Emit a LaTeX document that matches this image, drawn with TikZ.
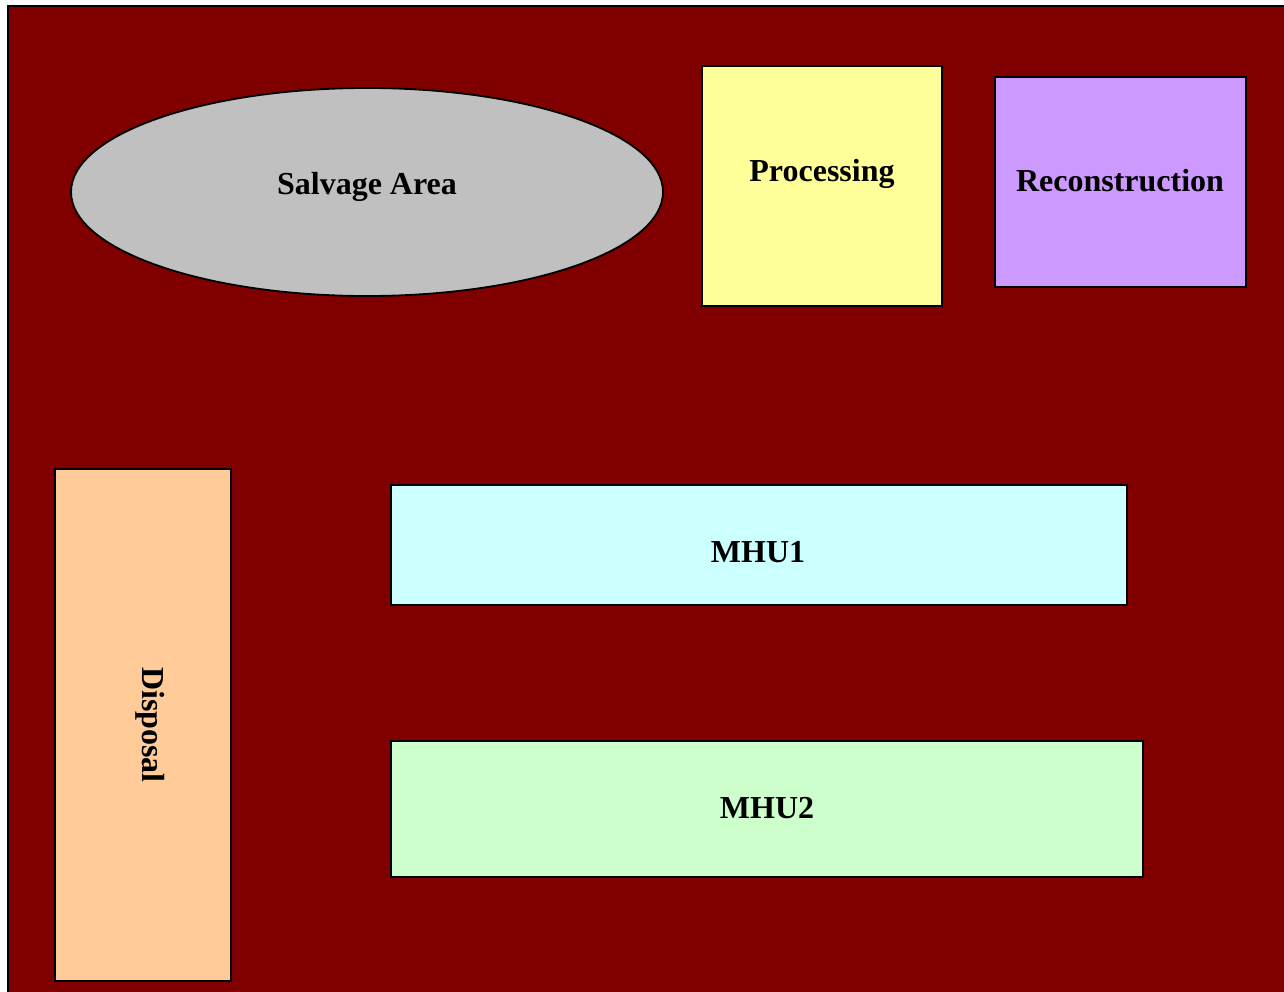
\documentclass[tikz,border=0pt]{standalone}
\usepackage{fontspec}
\setmainfont{Liberation Serif}
\usetikzlibrary{shapes.geometric}
\definecolor{bgred}{HTML}{800000}
\definecolor{salv}{HTML}{C0C0C0}
\definecolor{proc}{HTML}{FFFF99}
\definecolor{recon}{HTML}{CC99FF}
\definecolor{disp}{HTML}{FFCC99}
\definecolor{mhua}{HTML}{CCFFFF}
\definecolor{mhub}{HTML}{CCFFCC}
\begin{document}
\begin{tikzpicture}[x=1pt,y=-1pt,
  area/.style={draw=black,line width=1.8pt},
  lbl/.style={font=\fontsize{32}{36}\selectfont\bfseries,inner sep=0pt}]
\useasboundingbox (0,0) rectangle (1284,991);
\fill[white] (0,0) rectangle (1284,991);
\draw[fill=bgred,line width=2.5pt] (8,6) rectangle (1300,1010);
\node[area,fill=salv,ellipse,minimum width=592pt,minimum height=208pt,inner sep=0pt] (salvage) at (367,192) {};
\node[lbl] (salvagetxt) at (367,187) {Salvage Area};
\draw[area,fill=proc] (702,66) rectangle (942,306);
\node[lbl] (proctxt) at (822,174) {Processing};
\draw[area,fill=recon] (995,77) rectangle (1246,287);
\node[lbl] (recontxt) at (1120,181) {Reconstruction};
\draw[area,fill=disp] (55,469) rectangle (231,981);
\node[lbl,rotate=-90] (disptxt) at (150,725) {Disposal};
\draw[area,fill=mhua] (391,485) rectangle (1127,605);
\node[lbl] (mhuatxt) at (758,552) {MHU1};
\draw[area,fill=mhub] (391,741) rectangle (1143,877);
\node[lbl] (mhubtxt) at (767,808) {MHU2};
\end{tikzpicture}
\end{document}
